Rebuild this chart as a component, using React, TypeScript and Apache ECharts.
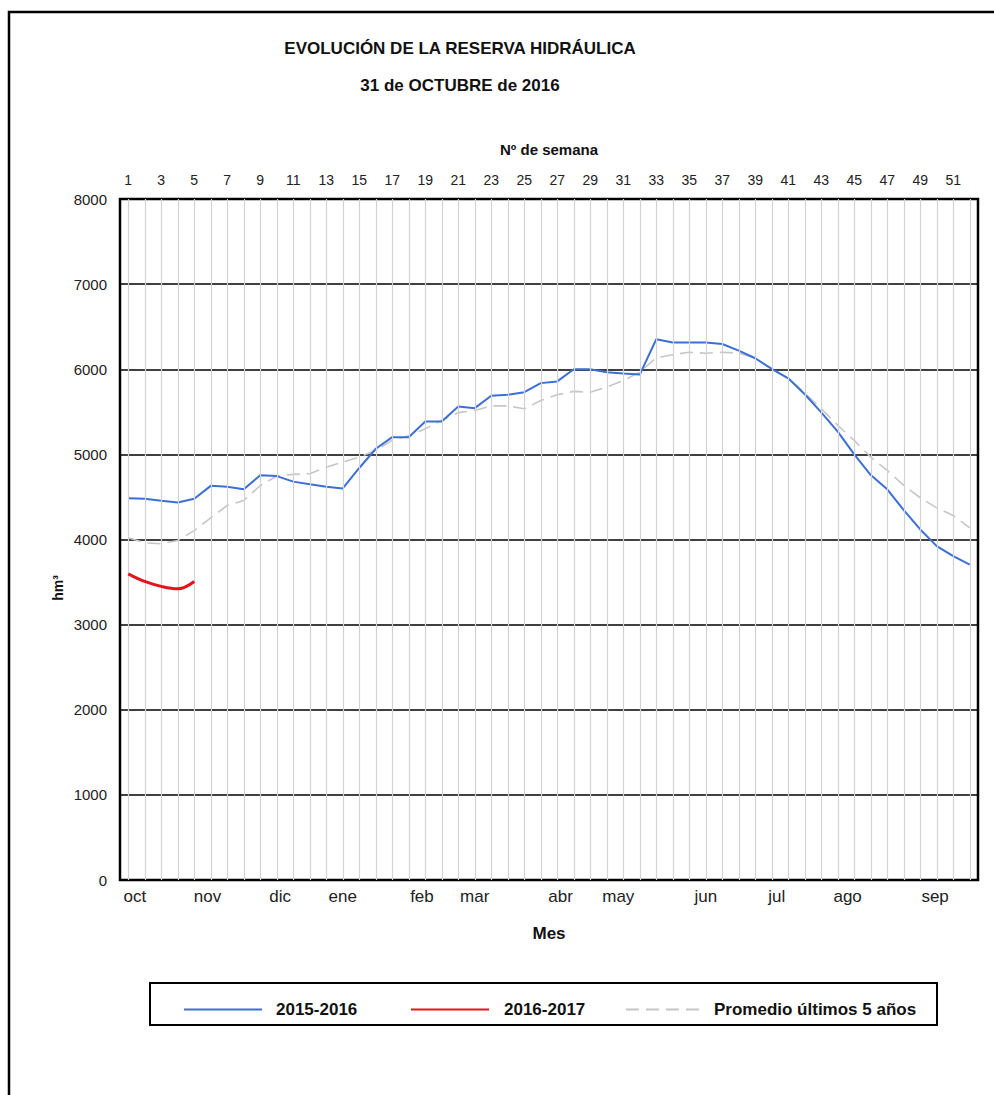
import React, { useEffect, useRef } from "react";
import * as echarts from "echarts";

const weeks: string[] = Array.from({ length: 52 }, (_, i) => String(i + 1));

const serie2015: number[] = [
  4485, 4478, 4455, 4435, 4478, 4630, 4620, 4590, 4755, 4745,
  4680, 4650, 4620, 4600, 4840, 5066, 5202, 5202, 5387, 5387,
  5563, 5543, 5688, 5700, 5731, 5837, 5857, 6000, 6000, 5964,
  5950, 5937, 6352, 6314, 6314, 6314, 6297, 6219, 6129, 6004,
  5894, 5706, 5494, 5267, 5000, 4757, 4589, 4345, 4118, 3922, 3804, 3706,
];

const serie2016: number[] = [3597, 3507, 3449, 3421, 3507];

const promedio: number[] = [
  4020, 3961, 3950, 3988, 4105, 4255, 4400, 4458, 4634, 4745,
  4765, 4772, 4850, 4909, 4967, 5047, 5164, 5220, 5300, 5400,
  5490, 5516, 5570, 5570, 5535, 5633, 5700, 5740, 5730, 5790,
  5868, 5966, 6134, 6170, 6200, 6188, 6200, 6188, 6129, 6000,
  5894, 5720, 5537, 5340, 5164, 4968, 4812, 4636, 4490, 4372, 4282, 4137,
];

const months: string[] = ["oct", "nov", "dic", "ene", "feb", "mar", "abr", "may", "jun", "jul", "ago", "sep"];
const monthWeekPos: number[] = [1.4, 5.8, 10.2, 14.0, 18.8, 22.0, 27.2, 30.7, 36.0, 40.3, 44.6, 49.9];

const seriesNames: string[] = ["2015-2016", "2016-2017", "Promedio últimos 5 años"];

const FONT = "Liberation Sans, Arial, Helvetica, sans-serif";

export default function App() {
  const ref = useRef<HTMLDivElement>(null);
  useEffect(() => {
    if (!ref.current) return;
    const chart = echarts.init(ref.current, undefined, { renderer: "svg" });
    const legendBase = {
      top: 996,
      itemWidth: 78,
      itemHeight: 14,
      itemStyle: { opacity: 0 },
      selectedMode: false,
    };
    const legendText = (pad: number) => ({
      fontFamily: FONT,
      fontWeight: "bold" as const,
      fontSize: 17,
      color: "#111",
      padding: [0, 0, 0, pad],
    });
    chart.setOption({
      animation: false,
      backgroundColor: "#fff",
      textStyle: { fontFamily: FONT },
      title: [
        {
          text: "EVOLUCIÓN DE LA RESERVA HIDRÁULICA",
          left: 455,
          top: 35,
          textAlign: "center",
          textStyle: { fontFamily: FONT, fontWeight: "bold", fontSize: 17, color: "#111" },
        },
        {
          text: "31 de OCTUBRE de 2016",
          left: 455,
          top: 72,
          textAlign: "center",
          textStyle: { fontFamily: FONT, fontWeight: "bold", fontSize: 17, color: "#111" },
        },
      ],
      legend: [
        { ...legendBase, left: 178, data: [seriesNames[0]], textStyle: legendText(9) },
        { ...legendBase, left: 405, data: [seriesNames[1]], textStyle: legendText(10) },
        { ...legendBase, left: 620, data: [seriesNames[2]], textStyle: legendText(5) },
      ],
      grid: {
        left: 120,
        right: 16,
        top: 199,
        bottom: 215,
        show: true,
        borderColor: "#000",
        borderWidth: 2.5,
        backgroundColor: "transparent",
      },
      xAxis: [
        {
          type: "category",
          position: "top",
          data: weeks,
          boundaryGap: true,
          name: "Nº de semana",
          nameLocation: "middle",
          nameGap: 42,
          nameTextStyle: { fontFamily: FONT, fontWeight: "bold", fontSize: 15, color: "#111" },
          axisLine: { show: false },
          axisTick: { show: false },
          splitLine: { show: false },
          axisLabel: { interval: 1, fontSize: 14, color: "#222", margin: 12, fontFamily: FONT },
        },
        {
          type: "value",
          position: "bottom",
          min: 0.5,
          max: 52.5,
          name: "Mes",
          nameLocation: "middle",
          nameGap: 45,
          nameTextStyle: { fontFamily: FONT, fontWeight: "bold", fontSize: 17, color: "#111" },
          axisLine: { show: false },
          axisTick: { show: false },
          splitLine: { show: false },
          axisLabel: {
            customValues: monthWeekPos,
            fontSize: 17,
            color: "#222",
            margin: 8,
            fontFamily: FONT,
            formatter: (v: number) => {
              const idx = monthWeekPos.findIndex((p) => Math.abs(p - v) < 1e-6);
              return idx >= 0 ? months[idx] : "";
            },
          },
        },
      ],
      yAxis: {
        type: "value",
        min: 0,
        max: 8000,
        interval: 1000,
        axisLine: { show: false },
        axisTick: { show: false },
        axisLabel: {
          fontSize: 15,
          color: "#222",
          margin: 13,
          fontFamily: FONT,
          formatter: (v: number) => String(v),
        },
        splitLine: { show: true, lineStyle: { color: "#000", width: 1.6 } },
      },
      graphic: [
        {
          type: "rect",
          shape: { x: 9, y: 12, width: 1000, height: 1100 },
          style: { fill: "none", stroke: "#000", lineWidth: 2.5 },
          silent: true,
        },
        {
          type: "rect",
          shape: { x: 150, y: 983, width: 787, height: 42 },
          style: { fill: "none", stroke: "#000", lineWidth: 2 },
          silent: true,
          z: -1,
        },
        {
          type: "text",
          x: 58,
          y: 588,
          rotation: Math.PI / 2,
          style: {
            text: "hm³",
            font: `bold 14px ${FONT}`,
            fill: "#111",
            textAlign: "center",
            textVerticalAlign: "middle",
          },
          silent: true,
        },
      ],
      series: [
        {
          name: seriesNames[2],
          type: "line",
          xAxisIndex: 0,
          data: promedio,
          symbol: "none",
          z: 2,
          lineStyle: { color: "#c6c6c6", width: 1.6, type: [13, 7] },
          itemStyle: { color: "#c6c6c6" },
          markLine: {
            silent: true,
            symbol: ["none", "none"],
            label: { show: false },
            lineStyle: { color: "#d2d2d2", width: 1.2, type: "solid" },
            data: weeks.map((_, i) => ({ xAxis: i })),
          },
        },
        {
          name: seriesNames[0],
          type: "line",
          xAxisIndex: 0,
          data: serie2015,
          symbol: "none",
          z: 4,
          lineStyle: { color: "#3b6fd6", width: 2 },
          itemStyle: { color: "#3b6fd6" },
        },
        {
          name: seriesNames[1],
          type: "line",
          xAxisIndex: 0,
          data: serie2016,
          symbol: "none",
          smooth: 0.4,
          z: 5,
          lineStyle: { color: "#e3141b", width: 3 },
          itemStyle: { color: "#e3141b" },
        },
      ],
    });
    return () => chart.dispose();
  }, []);
  return (
    <div
      ref={ref}
      style={{ position: "absolute", left: 0, top: 0, width: 994, height: 1095 }}
    />
  );
}
